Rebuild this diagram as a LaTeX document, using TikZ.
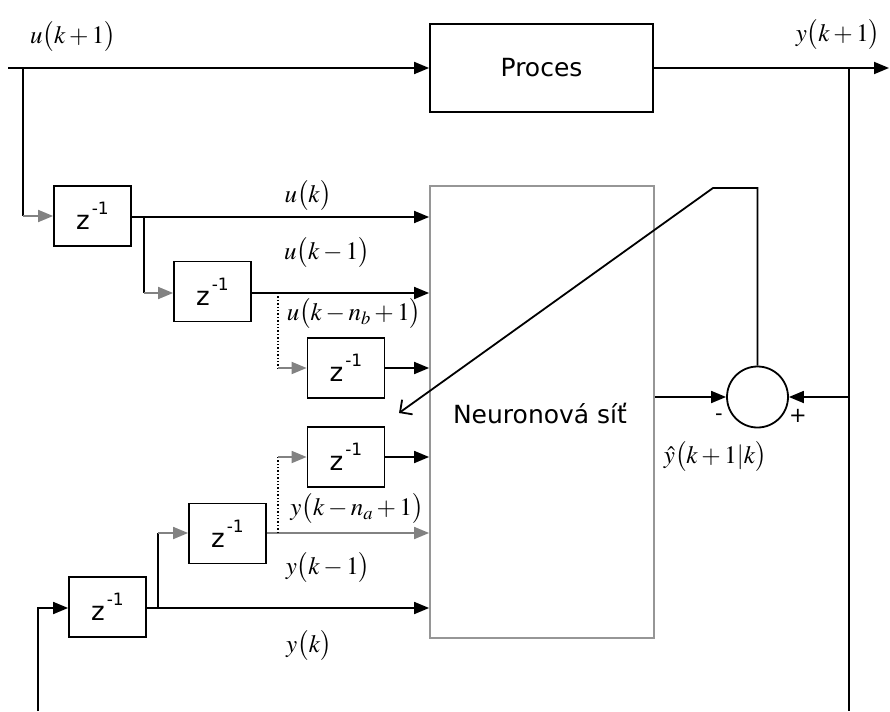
\documentclass[tikz,border=0pt]{standalone}
\usepackage{mathptmx}
\usepackage{fontspec}
\setmainfont{DejaVu Sans}
\usetikzlibrary{arrows.meta}
\definecolor{linegray}{RGB}{130,130,130}
\definecolor{boxgray}{RGB}{150,150,150}
% delay operator z^{-1}
\newcommand{\zdelay}{{\fontsize{26}{26}\selectfont z}\kern2pt\raisebox{15pt}{\fontsize{17}{17}\selectfont -1}}
\newcommand{\lp}{\bigl(}
\newcommand{\rp}{\bigr)}
\begin{document}
\begin{tikzpicture}[x=1pt,y=-1pt,line width=1.8pt,
  blockbox/.style={draw,line width=1.8pt,inner sep=0pt,minimum width=#1,minimum height=60pt},
  blockbox/.default=77pt,
  arr/.style={-{Triangle[length=15pt,width=12pt]}},
  garr/.style={draw=linegray,-{Triangle[length=15pt,width=12pt]}},
  fbarr/.style={-{Straight Barb[length=9pt,width=18pt]}},
  mlabel/.style={inner sep=0pt,font=\fontsize{25}{25}\selectfont},
  sgn/.style={inner sep=0pt,font=\fontsize{21}{21}\selectfont}]
\useasboundingbox (0,0) rectangle (890,711);

% blocks
\node[blockbox=223pt,minimum height=88pt,font=\fontsize{25}{25}\selectfont] (proc) at (541.5,68) {Proces};
\node[draw=boxgray,line width=1.8pt,inner sep=0pt,minimum width=224pt,minimum height=452pt] (nn) at (542,412) {};
\node[font=\fontsize{25}{25}\selectfont,inner sep=0pt] (nnlbl) at (540,414) {Neuronová síť};

\node[blockbox] (z1) at (92.5,216) {\zdelay};
\node[blockbox] (z2) at (212.5,291.5) {\zdelay};
\node[blockbox] (z3) at (346,368) {\zdelay};
\node[blockbox] (z4) at (346,457) {\zdelay};
\node[blockbox] (z5) at (227.5,533.5) {\zdelay};
\node[blockbox] (z6) at (107.5,607) {\zdelay};

\node[circle,draw,line width=1.8pt,minimum size=61pt,inner sep=0pt] (sum) at (757.5,397) {};

% junction points
\coordinate (uin) at (8,68);
\coordinate (ub) at (23,68);
\coordinate (u1b) at (144,217);
\coordinate (u2b) at (278,293);
\coordinate (yb1) at (158,608);
\coordinate (yb2) at (278,533);
\coordinate (yout) at (889,68);
\coordinate (yb) at (849,68);
\coordinate (ybot) at (849,711);
\coordinate (yin) at (38,711);
\coordinate (fbup) at (757.5,188);
\coordinate (fbc) at (713,188);
\coordinate (fbtip) at (399,413);

% process path
\draw[arr] (uin) -- (proc.west);
\draw[arr] (proc.east) -- (yout);
\draw (yb) -- (ybot);

% input delay chain
\draw (ub) -- (ub |- z1);
\draw[garr] (ub |- z1) -- (z1.west);
\draw[arr] (z1.east |- u1b) -- (u1b -| nn.west);
\draw (u1b) -- (u1b |- u2b);
\draw[garr] (u1b |- u2b) -- (z2.west |- u2b);
\draw[arr] (z2.east |- u2b) -- (u2b -| nn.west);
\draw[dotted,line width=1.4pt] (u2b) -- (u2b |- z3);
\draw[garr] (u2b |- z3) -- (z3.west);
\draw[arr] (z3.east) -- (z3 -| nn.west);

% output delay chain
\draw[arr] (yin) |- (z6.west |- yb1);
\draw[arr] (z6.east |- yb1) -- (yb1 -| nn.west);
\draw (yb1) -- (yb1 |- yb2);
\draw[garr] (yb1 |- yb2) -- (z5.west |- yb2);
\draw[garr] (z5.east |- yb2) -- (yb2 -| nn.west);
\draw[dotted,line width=1.4pt] (yb2) -- (yb2 |- z4);
\draw[garr] (yb2 |- z4) -- (z4.west);
\draw[arr] (z4.east) -- (z4 -| nn.west);

% error and feedback
\draw[arr] (nn.east |- sum) -- (sum.west);
\draw[arr] (yb |- sum) -- (sum.east);
\draw[fbarr] (sum.north) -- (fbup) -- (fbc) -- (fbtip);

% labels
\node[mlabel] (l0) at (73,37) {$u\lp k+1\rp$};
\node[mlabel] (l1) at (838,35) {$y\lp k+1\rp$};
\node[mlabel] (l2) at (308,196) {$u\lp k\rp$};
\node[mlabel] (l3) at (327,253) {$u\lp k-1\rp$};
\node[mlabel] (l4) at (354,314) {$u\lp k-n_b+1\rp$};
\node[mlabel] (l5) at (357,509) {$y\lp k-n_a+1\rp$};
\node[mlabel] (l6) at (328,568) {$y\lp k-1\rp$};
\node[mlabel] (l7) at (309,646) {$y\lp k\rp$};
\node[mlabel,anchor=west] (l8) at (663,457) {$\hat{y}\lp k+1|k\rp$};
\node[sgn] (mn) at (719,417) {-};
\node[sgn] (pl) at (798,416) {+};
\end{tikzpicture}
\end{document}
